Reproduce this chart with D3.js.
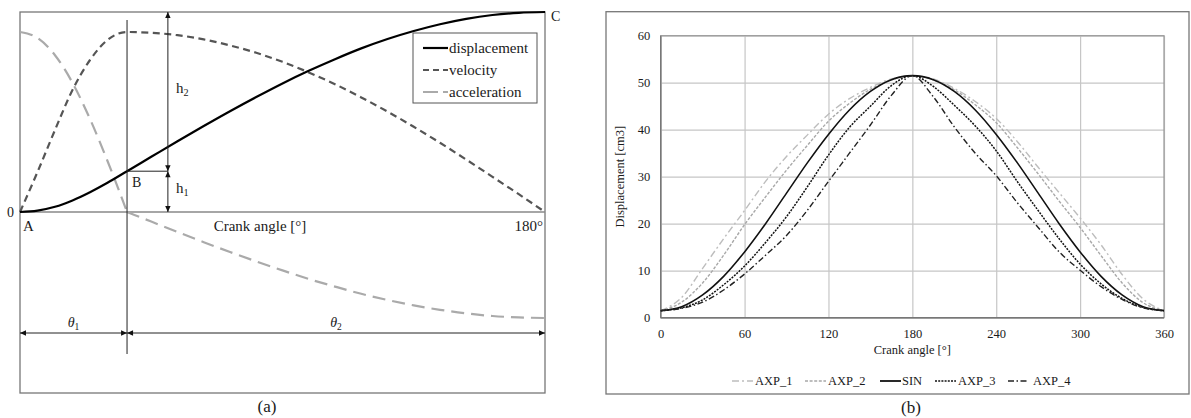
<!DOCTYPE html>
<html>
<head>
<meta charset="utf-8">
<script src="https://cdn.jsdelivr.net/npm/d3@7"></script>
<style>
  body { margin: 0; background: #fff; }
  text { font-family: "Liberation Serif", "Times New Roman", serif; fill: #1a1a1a; }
</style>
</head>
<body>
<svg id="fig" width="1191" height="418"></svg>
<script>
// ---------- (a) normalised motion law over one stroke ----------
const crankA = [0, 6, 12, 18, 24, 30, 36.7, 45, 54, 63, 72, 81, 90, 99, 108, 117, 126, 135, 144, 153, 162, 171, 180];
const displacement = [0, 0.007, 0.026, 0.058, 0.099, 0.146, 0.204, 0.276, 0.354, 0.430, 0.504, 0.575, 0.643, 0.706, 0.764, 0.818, 0.865, 0.905, 0.939, 0.966, 0.985, 0.996, 1.0];
const velocity = [0, 0.20, 0.41, 0.61, 0.76, 0.86, 0.90, 0.896, 0.884, 0.863, 0.833, 0.796, 0.751, 0.698, 0.639, 0.573, 0.502, 0.426, 0.346, 0.262, 0.176, 0.089, 0];
const acceleration = [0.90, 0.87, 0.784, 0.646, 0.465, 0.255, 0, -0.048, -0.100, -0.151, -0.200, -0.247, -0.292, -0.335, -0.373, -0.409, -0.440, -0.467, -0.489, -0.507, -0.520, -0.527, -0.53];
const theta1 = 36.7;      // end of the first segment (point B)
const hAngle = 50.7;      // where the h1 / h2 dimension arrows stand
const thetaRow = -0.605;  // level of the theta dimension arrows
const legendA = ["displacement", "velocity", "acceleration"];

// ---------- (b) displacement profiles ----------
const crankB = [0, 15, 30, 45, 60, 75, 90, 105, 120, 135, 150, 165, 180, 195, 210, 225, 240, 255, 270, 285, 300, 315, 330, 345, 360];
const AXP_1 = [1.5, 4.3, 10.5, 16.8, 22.8, 29.0, 34.3, 38.9, 43.3, 46.6, 49.0, 50.8, 51.5, 50.8, 48.8, 46.0, 42.4, 37.5, 32.0, 26.6, 21.2, 15.5, 9.2, 4.0, 1.5];
const AXP_2 = [1.5, 3.3, 7.4, 13.3, 19.8, 25.7, 31.4, 36.7, 41.8, 45.6, 48.6, 50.6, 51.5, 50.6, 48.5, 45.3, 41.5, 36.2, 30.6, 24.8, 19.2, 13.2, 7.4, 3.2, 1.5];
const SIN   = [1.5, 2.35, 4.85, 8.8, 14.0, 20.0, 26.5, 33.0, 39.0, 44.2, 48.15, 50.65, 51.5, 50.65, 48.15, 44.2, 39.0, 33.0, 26.5, 20.0, 14.0, 8.8, 4.85, 2.35, 1.5];
const AXP_3 = [1.5, 2.1, 3.8, 7.0, 11.0, 16.0, 21.5, 27.9, 34.6, 40.5, 45.0, 49.4, 51.5, 49.2, 45.2, 40.8, 35.5, 29.0, 22.8, 16.8, 11.4, 7.2, 4.1, 2.2, 1.5];
const AXP_4 = [1.5, 2.0, 3.3, 5.9, 9.3, 13.3, 17.5, 22.9, 29.0, 35.0, 41.0, 47.3, 51.5, 47.0, 40.6, 35.0, 30.2, 24.5, 19.2, 14.0, 10.1, 6.6, 3.9, 2.1, 1.5];
const xTicksB = [0, 60, 120, 180, 240, 300, 360];
const yTicksB = [0, 10, 20, 30, 40, 50, 60];

const svg = d3.select("#fig");
svg.append("rect").attr("width", 1191).attr("height", 418).attr("fill", "#fff");

// arrowhead marker
svg.append("defs").append("marker")
  .attr("id", "arr").attr("viewBox", "0 0 10 10")
  .attr("refX", 10).attr("refY", 5)
  .attr("markerUnits", "userSpaceOnUse")
  .attr("markerWidth", 7).attr("markerHeight", 6)
  .attr("orient", "auto-start-reverse")
  .append("path").attr("d", "M0,0.5 L10,5 L0,9.5 Z").attr("fill", "#111");

// ======================= panel (a) =======================
const xa = d3.scaleLinear().domain([0, 180]).range([20, 545]);
const ya = d3.scaleLinear().domain([-0.905, 1]).range([393, 12]);
const ga = svg.append("g");

ga.append("rect")
  .attr("x", xa(0)).attr("y", ya(1))
  .attr("width", xa(180) - xa(0)).attr("height", ya(-0.905) - ya(1))
  .attr("fill", "none").attr("stroke", "#777").attr("stroke-width", 1.3);

ga.append("line")
  .attr("x1", xa(0)).attr("x2", xa(180)).attr("y1", ya(0)).attr("y2", ya(0))
  .attr("stroke", "#888").attr("stroke-width", 1.3);

const styleA = {
  displacement: { stroke: "#000", dash: null, width: 2.2 },
  velocity: { stroke: "#555", dash: "7,4.5", width: 2.2 },
  acceleration: { stroke: "#aaa", dash: "13,7", width: 2.2 }
};
const seriesA = { displacement, velocity, acceleration };
const iB = crankA.indexOf(theta1);
const lineA = d3.line().x(d => xa(d[0])).y(d => ya(d[1])).curve(d3.curveMonotoneX);

// each law is drawn as its two segments, joined at B
["acceleration", "velocity", "displacement"].forEach(k => {
  const pts = crankA.map((a, i) => [a, seriesA[k][i]]);
  const segs = k === "acceleration" ? [pts.slice(0, iB + 1), pts.slice(iB)] : [pts];
  segs.forEach(seg => {
    ga.append("path").attr("d", lineA(seg))
      .attr("fill", "none").attr("stroke", styleA[k].stroke)
      .attr("stroke-width", styleA[k].width)
      .attr("stroke-dasharray", styleA[k].dash);
  });
});

// construction lines
const dispB = displacement[iB];
ga.append("line")
  .attr("x1", xa(theta1)).attr("x2", xa(theta1))
  .attr("y1", ya(0.96)).attr("y2", ya(-0.71))
  .attr("stroke", "#222").attr("stroke-width", 1);
ga.append("line")
  .attr("x1", xa(theta1)).attr("x2", xa(hAngle))
  .attr("y1", ya(dispB)).attr("y2", ya(dispB))
  .attr("stroke", "#222").attr("stroke-width", 1);

function dim(x1, y1, x2, y2) {
  ga.append("line").attr("x1", x1).attr("y1", y1).attr("x2", x2).attr("y2", y2)
    .attr("stroke", "#222").attr("stroke-width", 1)
    .attr("marker-start", "url(#arr)").attr("marker-end", "url(#arr)");
}
dim(xa(hAngle), ya(1), xa(hAngle), ya(dispB));
dim(xa(hAngle), ya(dispB), xa(hAngle), ya(0));
dim(xa(0), ya(thetaRow), xa(theta1), ya(thetaRow));
dim(xa(theta1), ya(thetaRow), xa(180), ya(thetaRow));

// labels
function label(g, x, y, txt, opts = {}) {
  const t = g.append("text").attr("x", x).attr("y", y)
    .attr("font-size", opts.size || 14)
    .attr("text-anchor", opts.anchor || "start")
    .text(txt);
  if (opts.italic) t.attr("font-style", "italic");
  return t;
}
function subLabel(g, x, y, main, sub, opts = {}) {
  const t = g.append("text").attr("x", x).attr("y", y)
    .attr("font-size", opts.size || 14)
    .attr("text-anchor", opts.anchor || "start");
  const m = t.append("tspan").text(main);
  if (opts.italic) m.attr("font-style", "italic");
  t.append("tspan").attr("font-size", (opts.size || 14) * 0.68).attr("dy", 3).text(sub);
  return t;
}

label(ga, 7, ya(0) + 5, "0");
label(ga, xa(0) + 3, 231, "A", { size: 15 });
label(ga, xa(theta1) + 5, 187, "B", { size: 14 });
label(ga, xa(180) + 6, 21, "C", { size: 14 });
label(ga, 260, 231, "Crank angle [°]", { size: 15, anchor: "middle" });
label(ga, xa(180) - 2, 231, "180°", { size: 15, anchor: "end" });
subLabel(ga, xa(hAngle) + 8, 93, "h", "2", { size: 15 });
subLabel(ga, xa(hAngle) + 8, 193, "h", "1", { size: 15 });
subLabel(ga, (xa(0) + xa(theta1)) / 2, 327, "θ", "1", { size: 14, italic: true, anchor: "middle" });
subLabel(ga, (xa(theta1) + xa(180)) / 2, 327, "θ", "2", { size: 14, italic: true, anchor: "middle" });
label(ga, 267, 412, "(a)", { size: 17, anchor: "middle" });

// legend (a)
const la = ga.append("g").attr("transform", "translate(413,33)");
la.append("rect").attr("width", 124).attr("height", 70)
  .attr("fill", "#fff").attr("stroke", "#555").attr("stroke-width", 1);
legendA.forEach((k, i) => {
  const y = 15 + i * 22;
  la.append("line").attr("x1", 10).attr("x2", 35).attr("y1", y).attr("y2", y)
    .attr("stroke", styleA[k].stroke).attr("stroke-width", 2.2)
    .attr("stroke-dasharray", k === "velocity" ? "6,4" : (k === "acceleration" ? "15,5" : null));
  la.append("text").attr("x", 36).attr("y", y).attr("dy", "0.33em")
    .attr("font-size", 15).text(k);
});

// ======================= panel (b) =======================
const xb = d3.scaleLinear().domain([0, 360]).range([660.7, 1164]);
const yb = d3.scaleLinear().domain([0, 60]).range([317.7, 35.7]);
const gb = svg.append("g");

gb.append("rect").attr("x", 606).attr("y", 11.7).attr("width", 583).attr("height", 382.3)
  .attr("fill", "none").attr("stroke", "#777").attr("stroke-width", 1.3);

const plotW = xb(360) - xb(0), plotH = yb(0) - yb(60);

const gx = gb.append("g").attr("transform", `translate(0,${yb(0)})`)
  .call(d3.axisBottom(xb).tickValues(xTicksB).tickSize(-plotH).tickPadding(11).tickFormat(d3.format("d")));
const gy = gb.append("g").attr("transform", `translate(${xb(0)},0)`)
  .call(d3.axisLeft(yb).tickValues(yTicksB).tickSize(-plotW).tickPadding(10.5).tickFormat(d3.format("d")));
[gx, gy].forEach(g => {
  g.select(".domain").remove();
  g.selectAll(".tick line").attr("stroke", "#c6c6c6").attr("stroke-width", 1.2);
  g.selectAll(".tick text").attr("font-size", 12.5).attr("fill", "#1a1a1a")
    .attr("font-family", "\"Liberation Serif\", serif");
});

gb.append("rect").attr("x", xb(0)).attr("y", yb(60)).attr("width", plotW).attr("height", plotH)
  .attr("fill", "none").attr("stroke", "#999").attr("stroke-width", 1.2);
gb.append("line").attr("x1", xb(0)).attr("x2", xb(360)).attr("y1", yb(0)).attr("y2", yb(0))
  .attr("stroke", "#777").attr("stroke-width", 1.4);
gb.append("line").attr("x1", xb(0)).attr("x2", xb(0)).attr("y1", yb(0)).attr("y2", yb(60))
  .attr("stroke", "#777").attr("stroke-width", 1.4);

const seriesB = [
  { name: "AXP_1", values: AXP_1, stroke: "#bdbdbd", dash: "7,3,2,3", width: 1.4 },
  { name: "AXP_2", values: AXP_2, stroke: "#a8a8a8", dash: "3,1.6", width: 1.4 },
  { name: "SIN",   values: SIN,   stroke: "#111", dash: null, width: 1.6 },
  { name: "AXP_3", values: AXP_3, stroke: "#111", dash: "2,1.2", width: 1.5 },
  { name: "AXP_4", values: AXP_4, stroke: "#222", dash: "6,2.5,1.5,2.5", width: 1.4 }
];
const lineB = d3.line().x((d, i) => xb(crankB[i])).y(d => yb(d)).curve(d3.curveMonotoneX);
seriesB.forEach(s => {
  gb.append("path").attr("d", lineB(s.values))
    .attr("fill", "none").attr("stroke", s.stroke)
    .attr("stroke-width", s.width).attr("stroke-dasharray", s.dash);
});

gb.append("text").attr("x", (xb(0) + xb(360)) / 2).attr("y", 354)
  .attr("text-anchor", "middle").attr("font-size", 12.5).text("Crank angle [°]");
gb.append("text").attr("transform", `translate(624,${(yb(0) + yb(60)) / 2}) rotate(-90)`)
  .attr("text-anchor", "middle").attr("font-size", 12.5).text("Displacement [cm3]");

// legend (b)
const legendX = [732, 805, 880, 935, 1008];
seriesB.forEach((s, i) => {
  const x = legendX[i], y = 381;
  gb.append("line").attr("x1", x).attr("x2", x + 21).attr("y1", y).attr("y2", y)
    .attr("stroke", s.stroke).attr("stroke-width", s.width + 0.2).attr("stroke-dasharray", s.dash);
  gb.append("text").attr("x", x + (s.name === "SIN" ? 22 : (s.name === "AXP_4" ? 25 : 23))).attr("y", y).attr("dy", "0.35em")
    .attr("font-size", 12.5).text(s.name);
});

label(gb, 911, 413, "(b)", { size: 17, anchor: "middle" });
</script>
</body>
</html>
